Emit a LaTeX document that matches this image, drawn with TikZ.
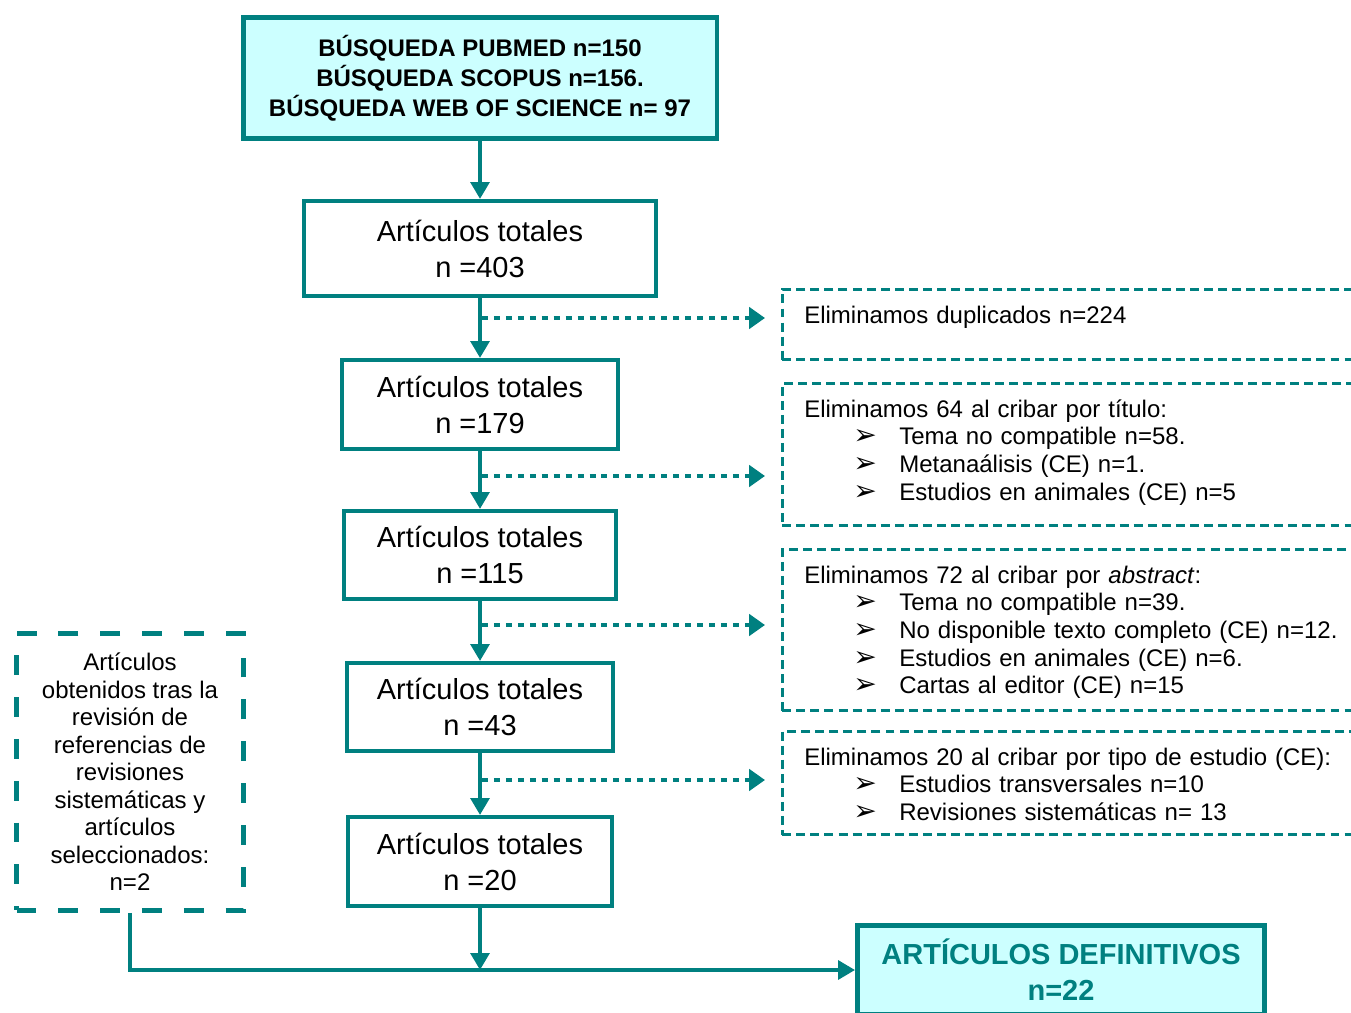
\documentclass[tikz,border=0pt]{standalone}
\usepackage{fontspec}
\setmainfont{Liberation Sans}
\newfontfamily\arrowfont{DejaVu Sans}
\usetikzlibrary{arrows.meta}
\definecolor{tealline}{RGB}{0,128,128}
\definecolor{cyanfill}{RGB}{204,255,255}
\newcommand{\bul}[1]{\hspace*{0.98cm}\makebox[0.92cm][l]{\arrowfont\fontsize{16pt}{15.7pt}\selectfont ➢}#1}
\newcommand{\smalltxt}{\fontsize{13.66pt}{15.7pt}\selectfont}
\newcommand{\bigtxt}{\fontsize{16.5pt}{20.5pt}\selectfont}

\begin{document}
\begin{tikzpicture}[x=0.02cm,y=-0.02cm,
    box/.style={draw=tealline,line width=2.27pt,align=center,inner sep=0pt,font=\bigtxt},
    headbox/.style={box,fill=cyanfill,line width=2.8pt},
    elimbox/.style={draw=tealline,line width=1.5pt,dash pattern=on 5.1pt off 2.9pt,
        anchor=north west,align=left,text width=12cm,inner xsep=0.44cm,inner ysep=0pt,
        text height=0.68cm,font=\smalltxt},
    flow/.style={draw=tealline,line width=2.6pt,-{Triangle[length=9.6pt,width=10.5pt]}},
    dotflow/.style={draw=tealline,line width=2.8pt,dash pattern=on 3.4pt off 3.4pt,
        shorten >=0.32cm,-{Triangle[length=9pt,width=12pt]}}]
    \useasboundingbox (0,0) rectangle (1351,1013);

    \node[headbox,minimum width=9.48cm,minimum height=2.42cm,
        font=\bfseries\fontsize{13.66pt}{17pt}\selectfont] (search) at (480,78)
        {BÚSQUEDA PUBMED n=150\\BÚSQUEDA SCOPUS n=156.\\BÚSQUEDA WEB OF SCIENCE n= 97};
    \node[box,minimum width=7.04cm,minimum height=1.90cm] (tot1) at (480,248.5) {Artículos totales\\n =403};
    \node[box,minimum width=5.54cm,minimum height=1.78cm] (tot2) at (480,404.5) {Artículos totales\\n =179};
    \node[box,minimum width=5.44cm,minimum height=1.76cm] (tot3) at (480,555) {Artículos totales\\n =115};
    \node[box,minimum width=5.32cm,minimum height=1.76cm] (tot4) at (480,707) {Artículos totales\\n =43};
    \node[box,minimum width=5.30cm,minimum height=1.78cm] (tot5) at (480,861.5) {Artículos totales\\n =20};
    \node[headbox,minimum width=8.14cm,minimum height=1.78cm,text=tealline,
        font=\bfseries\bigtxt] (final) at (1061,970) {ARTÍCULOS DEFINITIVOS\\n=22};
    \node[box,minimum width=4.54cm,minimum height=5.54cm,line width=2.8pt,
        dash pattern=on 11.3pt off 12.5pt,font=\fontsize{13.66pt}{15.65pt}\selectfont] (extra) at (130,772)
        {Artículos\\obtenidos tras la\\revisión de\\referencias de\\revisiones\\sistemáticas y\\artículos\\seleccionados:\\n=2};

    % cajas de exclusion
    \node[elimbox,text depth=0.73cm] (dupl) at (781,288) {Eliminamos duplicados n=224};
    \node[elimbox,text depth=2.17cm] (title) at (781,382)
        {Eliminamos 64 al cribar por título:\\
        \bul{Tema no compatible n=58.}\\
        \bul{Metanaálisis (CE) n=1.}\\
        \bul{Estudios en animales (CE) n=5}};
    \node[elimbox,text depth=2.55cm] (abstr) at (781,548)
        {Eliminamos 72 al cribar por \textit{abstract}:\\
        \bul{Tema no compatible n=39.}\\
        \bul{No disponible texto completo (CE) n=12.}\\
        \bul{Estudios en animales (CE) n=6.}\\
        \bul{Cartas al editor (CE) n=15}};
    \node[elimbox,text depth=1.39cm] (design) at (781,730)
        {Eliminamos 20 al cribar por tipo de estudio (CE):\\
        \bul{Estudios transversales n=10}\\
        \bul{Revisiones sistemáticas n= 13}};

    \draw[flow] (search) -- (tot1);
    \draw[flow] (tot1) -- (tot2);
    \draw[flow] (tot2) -- (tot3);
    \draw[flow] (tot3) -- (tot4);
    \draw[flow] (tot4) -- (tot5);
    \draw[flow] (tot5) -- (tot5 |- final.west);
    \draw[flow] (extra) -- (extra.south |- final.west) -- (final.west);

    \coordinate (d1) at (482,318);
    \coordinate (d2) at (482,476);
    \coordinate (d3) at (482,625);
    \coordinate (d4) at (482,780);
    \draw[dotflow] (d1) -- (d1 -| dupl.west);
    \draw[dotflow] (d2) -- (d2 -| title.west);
    \draw[dotflow] (d3) -- (d3 -| abstr.west);
    \draw[dotflow] (d4) -- (d4 -| design.west);
%    \draw[help lines] (0,0) grid (1351,1013);
\end{tikzpicture}
\end{document}
